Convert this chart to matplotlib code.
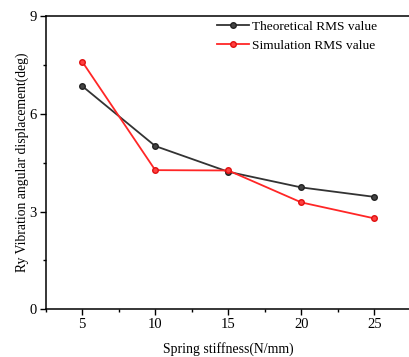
import matplotlib
matplotlib.use("Agg")
import matplotlib.pyplot as plt
from matplotlib.ticker import MultipleLocator

stiffness = [5, 10, 15, 20, 25]
theoretical = [6.85, 5.01, 4.22, 3.74, 3.45]
simulation = [7.60, 4.27, 4.26, 3.28, 2.79]
x_ticks = [5, 10, 15, 20, 25]
y_ticks = [0, 3, 6, 9]

plt.rcParams['font.family'] = ['Liberation Serif', 'DejaVu Serif']

fig = plt.figure(figsize=(4.09, 3.57), dpi=100)
H = 293.3
ax = fig.add_axes([45.7/409, (357-309.3)/357, (410.8-45.7)/409, H/357])

ax.plot(stiffness, theoretical, color='#333333', lw=1.3, marker='o', ms=4,
        markerfacecolor='#444444', markeredgecolor='#222222', label='Theoretical RMS value')
ax.plot(stiffness, simulation, color='#ff2626', lw=1.3, marker='o', ms=4,
        markerfacecolor='#ff4040', markeredgecolor='#e01010', label='Simulation RMS value')

ax.set_xlim(2.5, 27.5)
ax.set_ylim(0, 9)
ax.set_xticks(x_ticks)
ax.set_yticks(y_ticks)
ax.xaxis.set_minor_locator(MultipleLocator(2.5))
ax.yaxis.set_minor_locator(MultipleLocator(1.5))
ax.tick_params(which='major', direction='out', length=4, width=1, labelsize=10.5)
ax.tick_params(axis='y', which='major', pad=2.5)
ax.tick_params(axis='x', which='major', pad=2.5)
ax.tick_params(which='minor', direction='out', length=2.5, width=1)
for s in ax.spines.values():
    s.set_linewidth(1.1)

ax.set_xlabel('Spring stiffness(N/mm)', fontsize=9.9)
ax.xaxis.set_label_coords(0.5, (309.3-349)/H)
ax.xaxis.label.set_va('center')
ax.set_ylabel('Ry Vibration angular displacement(deg)', fontsize=9.8)
ax.yaxis.set_label_coords((22-45.7)/365.1, 0.5)
ax.yaxis.label.set_va('center')

ax.legend(loc='upper left', bbox_to_anchor=(0.447, 1.013), frameon=False, fontsize=9.6,
          handlelength=2.4, handletextpad=0.2, labelspacing=0.5, borderaxespad=0.2)

fig.savefig('out.png', dpi=100)
